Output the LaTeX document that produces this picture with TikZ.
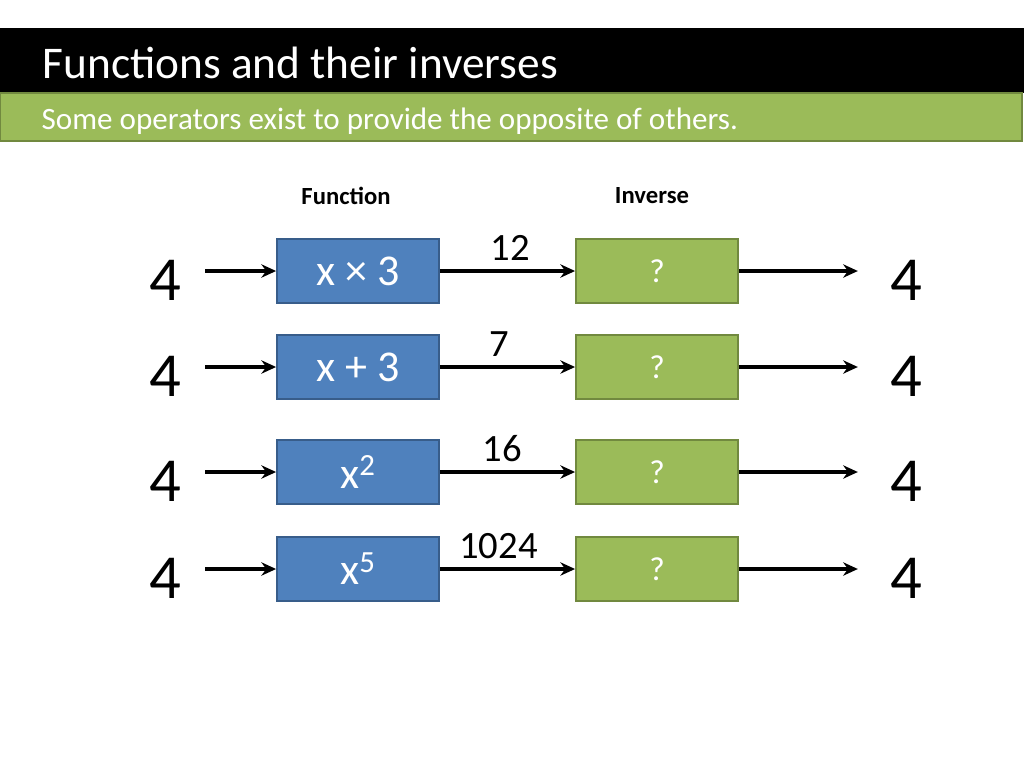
\documentclass[tikz,border=0pt]{standalone}
\usepackage{fontspec}
\setmainfont{Carlito}
\usetikzlibrary{arrows.meta}
\definecolor{funcblue}{HTML}{4F81BD}
\definecolor{funcedge}{HTML}{385D8A}
\definecolor{invgreen}{HTML}{9BBB59}
\definecolor{invedge}{HTML}{71893F}
\tikzset{
  fbox/.style={draw=funcedge, fill=funcblue, line width=1.4pt, text=white,
    minimum width=121.5pt, minimum height=48pt, font=\fontsize{33}{36}\selectfont},
  ibox/.style={draw=invedge, fill=invgreen, line width=1.4pt, text=white,
    minimum width=121.5pt, minimum height=48pt, font=\fontsize{25}{28}\selectfont},
  bignum/.style={font=\fontsize{47}{50}\selectfont},
  midnum/.style={font=\fontsize{29}{32}\selectfont},
  flow/.style={-{Stealth[length=11pt,width=10pt]}, line width=3pt, black}
}
\begin{document}
\begin{tikzpicture}[x=0.75pt,y=-0.75pt]
\useasboundingbox[fill=white] (0,0) rectangle (1024,768);
\fill[black] (0,28) rectangle (1024,93);
\draw[invedge, fill=invgreen, line width=1.4pt] (0,93) rectangle (1022,141);
\node[anchor=base west, text=white, font=\fontsize{34}{38}\selectfont] (title) at (38,78) {Functions and their inverses};
\node[anchor=base west, text=white, font=\fontsize{23.3}{26}\selectfont] (sub) at (37,129) {Some operators exist to provide the opposite of others.};
\node[font=\bfseries\fontsize{18.5}{20}\selectfont] (hf) at (346,196) {Function};
\node[font=\bfseries\fontsize{18.5}{20}\selectfont] (hi) at (652,196) {Inverse};
\foreach \i/\y/\f/\v/\dx in {1/271/{x × 3}/12/3, 2/367/{x + 3}/7/-8, 3/472/{x\textsuperscript{2}}/16/-5, 4/569/{x\textsuperscript{5}}/1024/-9} {
  \node[fbox] (f\i) at (358,\y) {\f};
  \node[ibox] (g\i) at (657,\y) {?};
  \node[bignum, inner xsep=18pt] (in\i) at (165,\y+9) {4};
  \node[bignum, inner xsep=24pt] (out\i) at (906,\y+9) {4};
  \draw[flow] (in\i.east |- f\i) -- (f\i);
  \draw[flow] (f\i) -- node[midnum, above=3pt, xshift=\dx*0.75pt] (v\i) {\v} (g\i);
  \draw[flow] (g\i) -- (out\i.west |- g\i);
}
\end{tikzpicture}
\end{document}
